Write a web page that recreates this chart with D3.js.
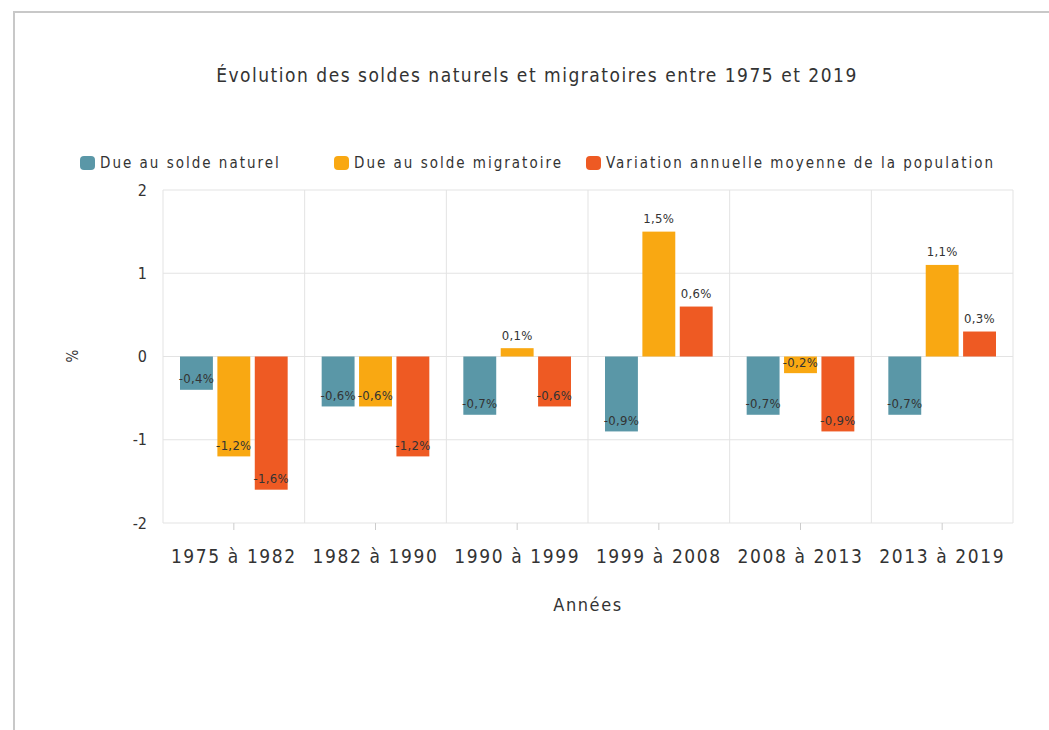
<!DOCTYPE html>
<html>
<head>
<meta charset="utf-8">
<script src="https://cdn.jsdelivr.net/npm/d3@7"></script>
<style>
	body { margin: 0; background: #fff; }
	text { font-family: "Liberation Sans Narrow", "DejaVu Sans Condensed", "Open Sans", sans-serif; fill: #333; }
</style>
</head>
<body>
<div id="chart"></div>
<script>
var periodes = ["1975 à 1982", "1982 à 1990", "1990 à 1999", "1999 à 2008", "2008 à 2013", "2013 à 2019"];
var series = ["Due au solde naturel", "Due au solde migratoire", "Variation annuelle moyenne de la population"];
var couleurs = ["#5a97a7", "#f9a812", "#ee5a23"];
var soldeNaturel = [-0.4, -0.6, -0.7, -0.9, -0.7, -0.7];
var soldeMigratoire = [-1.2, -0.6, 0.1, 1.5, -0.2, 1.1];
var variation = [-1.6, -1.2, -0.6, 0.6, -0.9, 0.3];
var yTicks = [-2, -1, 0, 1, 2];

var valeurs = [soldeNaturel, soldeMigratoire, variation];

var width = 1049, height = 730;
var mLeft = 163, mRight = 1013, mTop = 190, mBottom = 523;

var svg = d3.select("#chart").append("svg")
	.attr("width", width).attr("height", height);

// cadre
svg.append("rect")
	.attr("x", 14).attr("y", 12)
	.attr("width", width + 20).attr("height", height + 20)
	.attr("fill", "none").attr("stroke", "#c8c8c8").attr("stroke-width", 2);

var x0 = d3.scaleBand().domain(periodes).range([mLeft, mRight]);
var x1 = d3.scaleBand().domain(d3.range(3)).range([17, x0.bandwidth() - 17]).paddingInner(0.12);
var y = d3.scaleLinear().domain([-2, 2]).range([mBottom, mTop]);

// grille
svg.append("g").selectAll("line")
	.data(yTicks)
	.enter().append("line")
	.attr("x1", mLeft).attr("x2", mRight)
	.attr("y1", function(d) { return y(d); })
	.attr("y2", function(d) { return y(d); })
	.style("stroke", "#e3e3e3");

svg.append("g").selectAll("line")
	.data(d3.range(periodes.length + 1))
	.enter().append("line")
	.attr("x1", function(i) { return mLeft + i * x0.bandwidth(); })
	.attr("x2", function(i) { return mLeft + i * x0.bandwidth(); })
	.attr("y1", mTop).attr("y2", mBottom)
	.style("stroke", "#e3e3e3");

// barres
var groupes = svg.append("g").selectAll("g")
	.data(periodes)
	.enter().append("g")
	.attr("transform", function(d) { return "translate(" + x0(d) + ",0)"; });

groupes.selectAll("rect")
	.data(function(d, i) { return valeurs.map(function(v, s) { return {s: s, v: v[i]}; }); })
	.enter().append("rect")
	.attr("x", function(d) { return x1(d.s); })
	.attr("width", x1.bandwidth())
	.attr("y", function(d) { return y(Math.max(0, d.v)); })
	.attr("height", function(d) { return Math.abs(y(d.v) - y(0)); })
	.attr("fill", function(d) { return couleurs[d.s]; });

groupes.selectAll("text")
	.data(function(d, i) { return valeurs.map(function(v, s) { return {s: s, v: v[i]}; }); })
	.enter().append("text")
	.attr("x", function(d) { return x1(d.s) + x1.bandwidth() / 2; })
	.attr("y", function(d) { return d.v < 0 ? y(d.v) - 11 : y(d.v) - 13; })
	.attr("dy", "0.35em")
	.attr("text-anchor", "middle")
	.style("font-size", "13px")
	.style("letter-spacing", "0.3px")
	.text(function(d) { return String(d.v).replace(".", ",") + "%"; });

// axes
var xAxis = svg.append("g")
	.attr("transform", "translate(0," + mBottom + ")")
	.call(d3.axisBottom(x0).tickSize(7).tickPadding(20));
xAxis.select(".domain").remove();
xAxis.selectAll("line").attr("stroke", "#ccc");
xAxis.selectAll("text").style("font-size", "19px").style("letter-spacing", "1.6px");

var yAxis = svg.append("g")
	.attr("transform", "translate(" + (mLeft - 14) + ",0)")
	.call(d3.axisLeft(y).tickValues(yTicks).tickSize(0).tickPadding(2)
		.tickFormat(function(d) { return String(d); }));
yAxis.select(".domain").remove();
yAxis.selectAll("text").style("font-size", "16px");

svg.append("text")
	.attr("transform", "translate(73,356) rotate(-90)")
	.attr("text-anchor", "middle")
	.attr("dy", "0.35em")
	.style("font-size", "15px")
	.text("%");

svg.append("text")
	.attr("x", 588).attr("y", 605)
	.attr("text-anchor", "middle")
	.attr("dy", "0.35em")
	.style("font-size", "18px")
	.style("letter-spacing", "1.6px")
	.text("Années");

// titre
svg.append("text")
	.attr("x", 537).attr("y", 75)
	.attr("text-anchor", "middle")
	.attr("dy", "0.35em")
	.style("font-size", "19px")
	.style("letter-spacing", "1.5px")
	.text("Évolution des soldes naturels et migratoires entre 1975 et 2019");

// légende
var legendX = [80, 334, 586];
var legende = svg.append("g").selectAll("g")
	.data(series)
	.enter().append("g")
	.attr("transform", function(d, i) { return "translate(" + legendX[i] + ",163)"; });

legende.append("rect")
	.attr("x", 0).attr("y", -7)
	.attr("width", 15).attr("height", 14)
	.attr("rx", 4)
	.attr("fill", function(d, i) { return couleurs[i]; });

legende.append("text")
	.attr("x", 20)
	.attr("dy", "0.35em")
	.style("font-size", "15px")
	.style("letter-spacing", "2px")
	.text(function(d) { return d; });
</script>
</body>
</html>
